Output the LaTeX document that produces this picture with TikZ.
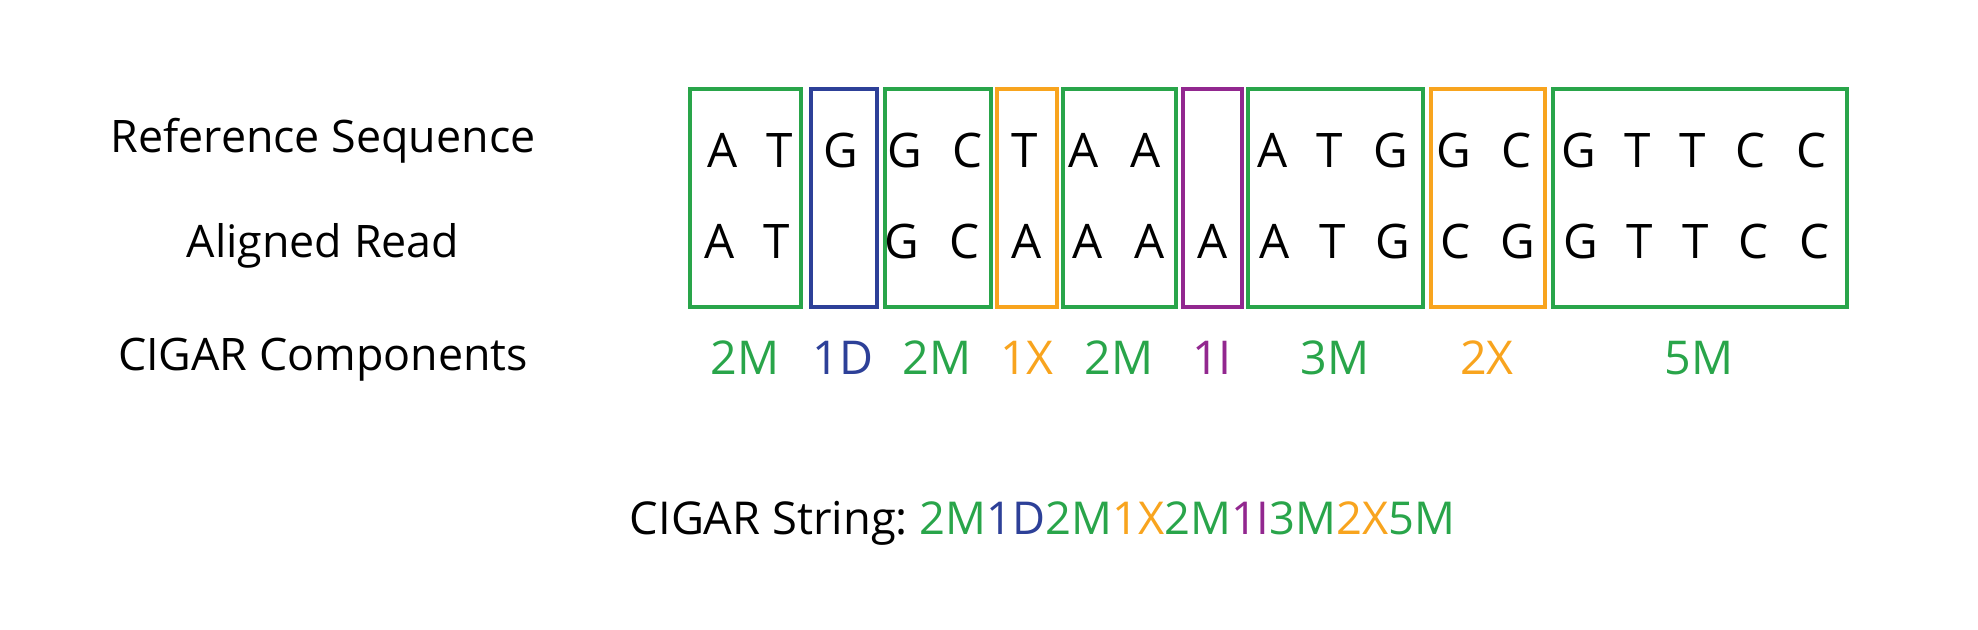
\documentclass[tikz,border=0pt]{standalone}
\usepackage{fontspec}
\setmainfont{Open Sans}
\definecolor{cgreen}{RGB}{41,165,74}
\definecolor{cblue}{RGB}{45,64,152}
\definecolor{corange}{RGB}{248,164,30}
\definecolor{cpurple}{RGB}{146,39,143}
\begin{document}
\begin{tikzpicture}[x=1pt,y=-1pt,
  seg/.style={draw=#1, line width=4pt, inner sep=0pt, minimum height=218pt},
  nuc/.style={font=\fontsize{47.6}{50}\selectfont, anchor=base, inner sep=0pt},
  comp/.style={font=\fontsize{46.6}{50}\selectfont, anchor=base, inner sep=0pt, text=#1},
  rowlabel/.style={font=\fontsize{44.8}{48}\selectfont, anchor=base, inner sep=0pt},
  cigar/.style={font=\fontsize{45.3}{48}\selectfont\frenchspacing, anchor=base, inner sep=0pt}]
\useasboundingbox (0,0) rectangle (1978,629);

% left labels
\node[rowlabel] (lref) at (323,152) {Reference Sequence};
\node[rowlabel] (lread) at (323,257.3) {Aligned Read};
\node[rowlabel] (lcomp) at (323,370) {CIGAR Components};

% boxes
\node[seg=cgreen,  minimum width=111pt]   (b1) at (745.8,198.3) {};
\node[seg=cblue,   minimum width=66pt]    (b2) at (843.7,198.3) {};
\node[seg=cgreen,  minimum width=105.4pt] (b3) at (938.0,198.3) {};
\node[seg=corange, minimum width=60pt]    (b4) at (1026.7,198.3) {};
\node[seg=cgreen,  minimum width=112.7pt] (b5) at (1119.65,198.3) {};
\node[seg=cpurple, minimum width=59.3pt]  (b6) at (1212.35,198.3) {};
\node[seg=cgreen,  minimum width=175.3pt] (b7) at (1335.65,198.3) {};
\node[seg=corange, minimum width=114pt]   (b8) at (1487.7,198.3) {};
\node[seg=cgreen,  minimum width=293.4pt] (b9) at (1700.0,198.3) {};

% reference row
\foreach \x/\l [count=\i] in {723/A,780/T,840.7/G,904.7/G,967.7/C,1024.2/T,1083.7/A,1145.7/A,
  1272.3/A,1329.2/T,1390.5/G,1453.8/G,1516.3/C,1578.7/G,1637.5/T,1692.5/T,1750.3/C,1811.2/C}
  \node[nuc] (r\i) at (\x,167.3) {\l};

% read row
\foreach \x/\l [count=\i] in {720/A,777/T,902/G,964.5/C,1026.3/A,1088/A,1150/A,1213/A,
  1275/A,1332.7/T,1393/G,1455.2/C,1518/G,1581.3/G,1640/T,1695.5/T,1753.3/C,1814.3/C}
  \node[nuc] (a\i) at (\x,258.3) {\l};

% components
\node[comp=cgreen]  (c1) at (744.7,374) {2M};
\node[comp=cblue]   (c2) at (842.7,374) {1D};
\node[comp=cgreen]  (c3) at (936.7,374) {2M};
\node[comp=corange] (c4) at (1027,374) {1X};
\node[comp=cgreen]  (c5) at (1118.7,374) {2M};
\node[comp=cpurple] (c6) at (1212,374) {1I};
\node[comp=cgreen]  (c7) at (1335,374) {3M};
\node[comp=corange] (c8) at (1486.8,374) {2X};
\node[comp=cgreen]  (c9) at (1699.3,374) {5M};

% CIGAR string
\node[cigar] (cs) at (1042.5,534.5) {CIGAR String: \textcolor{cgreen}{2M}\textcolor{cblue}{1D}\textcolor{cgreen}{2M}\textcolor{corange}{1X}\textcolor{cgreen}{2M}\textcolor{cpurple}{1I}\textcolor{cgreen}{3M}\textcolor{corange}{2X}\textcolor{cgreen}{5M}};
\end{tikzpicture}
\end{document}
